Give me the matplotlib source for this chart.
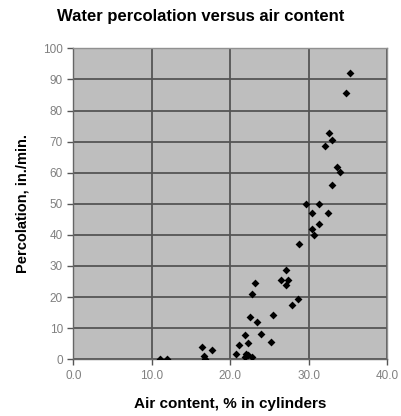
import matplotlib
matplotlib.use("Agg")
import matplotlib.pyplot as plt

# air content (%) and percolation (in./min.)
air = [35.2, 34.7, 32.6, 33.0, 32.1, 33.6, 34.0, 33.0,
       29.7, 31.3, 30.4, 32.4, 31.3, 30.4, 30.6, 28.8,
       27.1, 26.5, 27.3, 27.1, 23.1, 22.8, 28.6, 27.9,
       25.4, 22.5, 23.4, 23.9, 21.9, 25.2, 22.3, 21.1,
       16.4, 17.7, 20.7, 22.0, 22.3, 22.8, 16.6, 16.8,
       11.1, 12.0, 21.9]
perc = [92.2, 85.7, 72.9, 70.5, 68.7, 61.8, 60.1, 56.0,
        49.9, 49.9, 47.1, 47.1, 43.6, 42.0, 40.0, 37.0,
        28.7, 25.5, 25.5, 23.9, 24.6, 21.0, 19.3, 17.4,
        14.1, 13.6, 12.0, 8.1, 7.7, 5.7, 5.4, 4.6,
        3.9, 3.0, 1.8, 1.8, 1.4, 0.8, 1.2, 0.2,
        0.0, 0.0, 0.9]

xticks = [0, 10, 20, 30, 40]
yticks = list(range(0, 101, 10))

plt.rcParams['font.family'] = ['Liberation Sans', 'DejaVu Sans']

fig = plt.figure(figsize=(4.02, 4.16), dpi=100)
ax = fig.add_axes([73.3 / 402, 1 - 359.3 / 416, 314 / 402, 311 / 416])
ax.set_facecolor('#bebebe')

ax.scatter(air, perc, marker='D', s=16, color='black', zorder=3, linewidths=0)

ax.set_xlim(0, 40)
ax.set_ylim(0, 100)
ax.set_xticks(xticks)
ax.set_xticklabels(['%.1f' % t for t in xticks])
ax.set_yticks(yticks)
ax.tick_params(colors='#555555', labelcolor='#808080', labelsize=8.5,
               length=4, width=1, direction='out')
ax.grid(True, color='#555555', linewidth=1.3)
ax.set_axisbelow(True)
for s in ax.spines.values():
    s.set_color('#909090')
    s.set_linewidth(1)
ax.spines['left'].set_color('#666666')
ax.spines['bottom'].set_color('#666666')

fig.text(0.5, 1 - 17 / 416, 'Water percolation versus air content',
         ha='center', va='center', fontsize=12, fontweight='bold')
ax.set_xlabel('Air content, % in cylinders', fontsize=11, fontweight='bold', labelpad=11)
ax.set_ylabel('Percolation, in./min.', fontsize=10.5, fontweight='bold', labelpad=10)

fig.savefig('out.png', dpi=100)
